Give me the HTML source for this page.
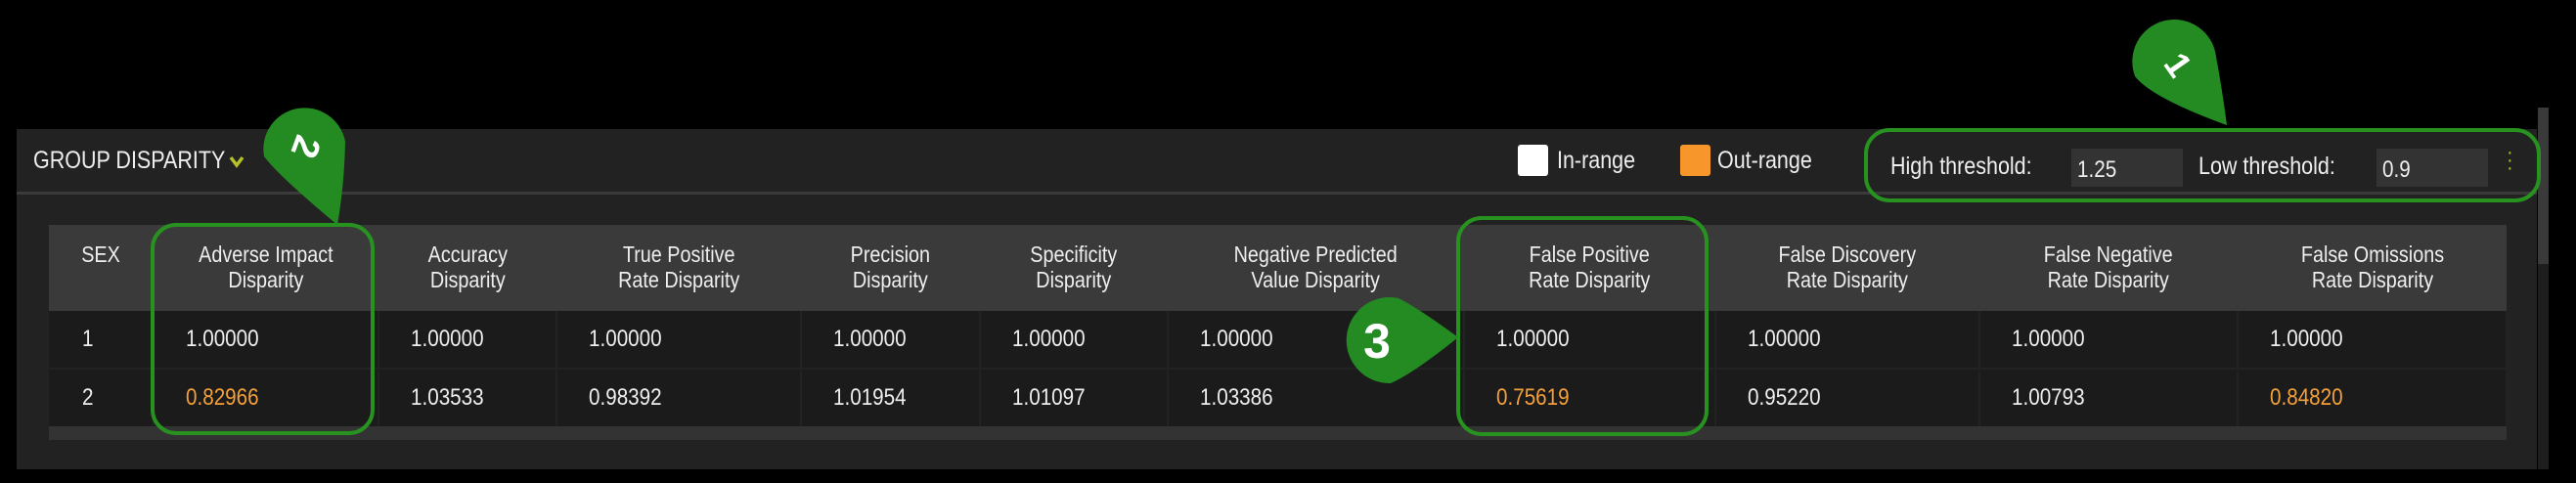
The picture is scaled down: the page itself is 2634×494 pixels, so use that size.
<!DOCTYPE html>
<html><head><meta charset="utf-8">
<style>
*{box-sizing:border-box;margin:0;padding:0}
body{width:2634px;height:494px;background:#000;position:relative;overflow:hidden;font-family:"Liberation Sans Narrow","Liberation Sans",sans-serif;color:#f0f0f0}
.abs{position:absolute}
.c{display:inline-block;transform:scaleX(0.86);transform-origin:left center;white-space:nowrap}
.cc{display:inline-block;transform:scaleX(0.86);transform-origin:center center}
#panel{left:17px;top:132px;width:2577px;height:348px;background:#222}
#hdr-line{left:17px;top:196px;width:2577px;height:3px;background:#3a3a3a}
#title{left:34px;top:150px;font-size:25px;color:#eee}
.sq{width:31px;height:32px;border-radius:3px;top:148px}
.lt{top:150px;font-size:25px;color:#eee}
.inp{top:152px;height:39px;width:114px;background:#333;font-size:24px;padding:8px 6px;color:#eee}
.th{position:absolute;background:#3a3a3a;top:230px;height:88px;text-align:center;font-size:23px;line-height:26px;padding-top:17px;color:#eee}
.td{position:absolute;background:#1b1b1b;height:58px;font-size:24px;line-height:58px;padding-left:32px;color:#eee}
.out{color:#f4a03a}
.gbox{position:absolute;border:4px solid #27921f;border-radius:26px}
</style></head><body>
<div class="abs" id="panel"></div>
<div class="abs" id="hdr-line"></div>
<div class="abs" id="title"><span class="c">GROUP DISPARITY</span></div>
<svg class="abs" style="left:234px;top:158px" width="16" height="14"><path d="M2 3 L8 11 L14 3" stroke="#b5c22a" stroke-width="3.5" fill="none"/></svg>
<div class="abs" style="left:2595px;top:110px;width:11px;height:160px;background:#3a3a3a"></div>
<div class="abs" style="left:2595px;top:270px;width:11px;height:210px;background:#1e1e1e"></div>

<div class="abs sq" style="left:1552px;background:#fff"></div>
<div class="abs lt" style="left:1592px"><span class="c">In-range</span></div>
<div class="abs sq" style="left:1718px;background:#f7962a"></div>
<div class="abs lt" style="left:1756px"><span class="c">Out-range</span></div>

<div class="abs lt" style="left:1933px;top:156px"><span class="c">High threshold:</span></div>
<div class="abs inp" style="left:2118px"><span class="c">1.25</span></div>
<div class="abs lt" style="left:2248px;top:156px"><span class="c">Low threshold:</span></div>
<div class="abs inp" style="left:2430px"><span class="c">0.9</span></div>
<div class="abs" style="left:2563px;top:152px;width:6px;font-size:20px;line-height:8px;color:#b5c22a">·<br>·<br>·</div>

<div id="table"></div>
<div class="abs" style="left:50px;top:436px;width:2513px;height:14px;background:#333"></div>

<div class="gbox" style="left:1906px;top:131px;width:692px;height:76px"></div>
<div class="gbox" style="left:154px;top:228px;width:229px;height:217px"></div>
<div class="gbox" style="left:1489px;top:221px;width:258px;height:225px"></div>

<svg class="abs" style="left:0;top:0" width="2634" height="494">
 <g>
  <path d="M2277 128 Q2200 100 2183 78 A43 43 0 1 1 2266 58 Q2272 90 2277 128 Z" fill="#238b21"/>
  <text x="2226" y="78" font-size="36" fill="#fff" font-family="Liberation Sans" font-weight="bold" text-anchor="middle" transform="rotate(55 2226 67)">1</text>
 </g>
 <g>
  <path d="M345 230 Q285 180 270 160 A42 42 0 1 1 353 145 Q352 190 345 230 Z" fill="#238b21"/>
  <text x="312" y="162" font-size="38" fill="#fff" font-family="Liberation Sans" font-weight="bold" text-anchor="middle" transform="rotate(110 312 150)">2</text>
 </g>
 <g>
  <path d="M1491 345 Q1445 382 1422 392 A44 44 0 1 1 1430 305 Q1450 315 1491 345 Z" fill="#238b21"/>
  <text x="1408" y="366" font-size="50" fill="#fff" font-family="Liberation Sans" font-weight="bold" text-anchor="middle">3</text>
 </g>
</svg>

<script>
const headers=["SEX","Adverse Impact<br>Disparity","Accuracy<br>Disparity","True Positive<br>Rate Disparity","Precision<br>Disparity","Specificity<br>Disparity","Negative Predicted<br>Value Disparity","False Positive<br>Rate Disparity","False Discovery<br>Rate Disparity","False Negative<br>Rate Disparity","False Omissions<br>Rate Disparity"];
const row1=["1","1.00000","1.00000","1.00000","1.00000","1.00000","1.00000","1.00000","1.00000","1.00000","1.00000"];
const row2=["2","0.82966","1.03533","0.98392","1.01954","1.01097","1.03386","0.75619","0.95220","1.00793","0.84820"];
const lowT=0.9, highT=1.25;
const edges=[50,157,387,569,819,1002,1194,1497,1754,2024,2288,2563];
const t=document.getElementById('table');
headers.forEach((h,i)=>{
  const d=document.createElement('div');
  d.className='th';
  d.style.left=edges[i]+'px';d.style.width=(edges[i+1]-edges[i])+'px';
  d.innerHTML='<span class="cc">'+h+'</span>';
  
  
  t.appendChild(d);
});
[row1,row2].forEach((r,ri)=>{
  r.forEach((v,i)=>{
    const d=document.createElement('div');
    d.className='td';
    const x=edges[i]+(i>0?1:0);
    d.style.left=x+'px';d.style.width=(edges[i+1]-x-1)+'px';
    d.style.top=(ri===0?318:378)+'px';
    if(i===0)d.style.paddingLeft='34px';
    const n=parseFloat(v);
    if(i>0&&(n<lowT||n>highT))d.classList.add('out');
    const s=document.createElement('span');
    s.className='c';
    s.textContent=v;
    d.appendChild(s);
    
    
    t.appendChild(d);
  });
});
</script>
</body></html>
